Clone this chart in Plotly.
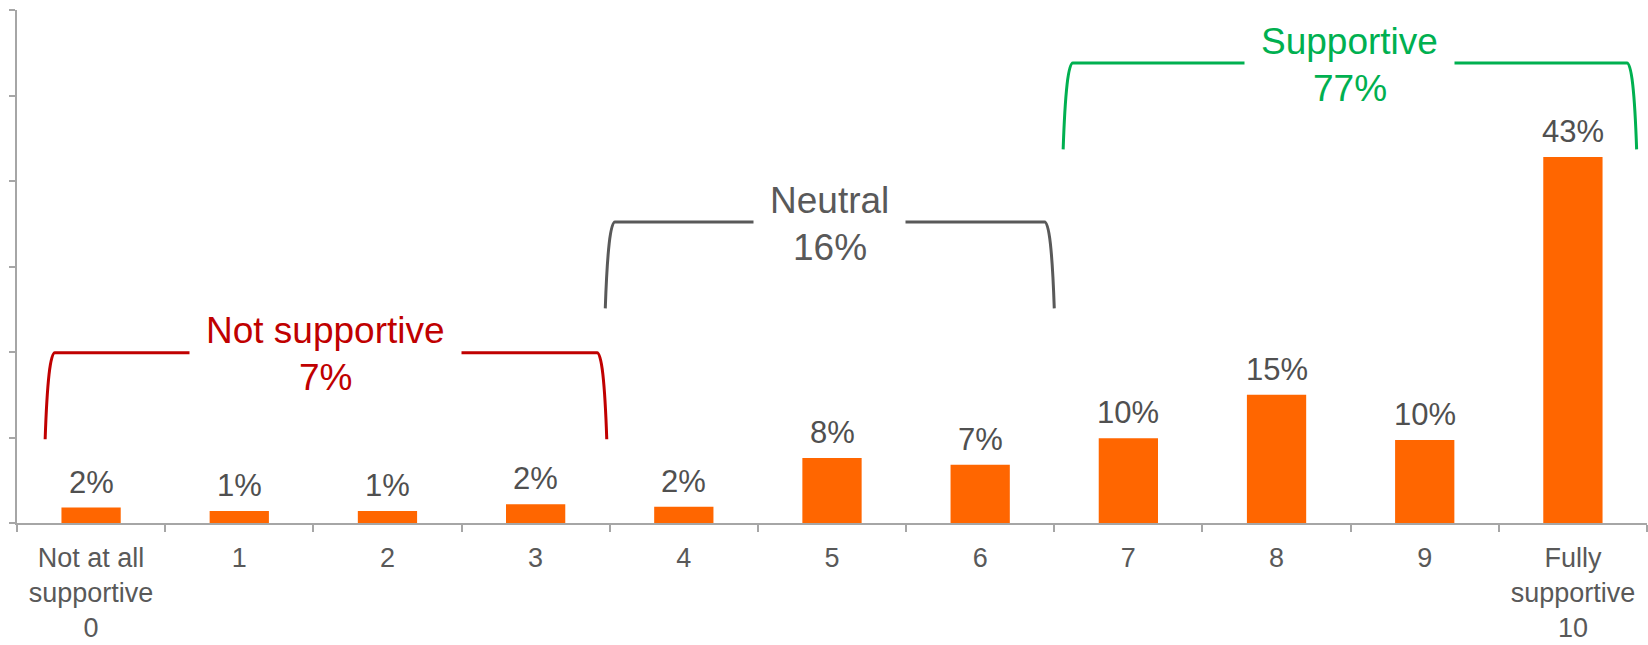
import plotly.graph_objects as go

# ---- data ----
categories = ["Not at all<br>supportive<br>0", "1", "2", "3", "4", "5", "6", "7", "8", "9",
              "Fully<br>supportive<br>10"]
values = [1.8, 1.4, 1.4, 2.2, 1.9, 7.6, 6.8, 9.9, 15.0, 9.7, 42.8]
value_labels = ["2%", "1%", "1%", "2%", "2%", "8%", "7%", "10%", "15%", "10%", "43%"]

group_names = ["Not supportive", "Neutral", "Supportive"]
group_totals = ["7%", "16%", "77%"]
group_colors = ["#C00000", "#595959", "#00B050"]
# bracket spans (category units) and levels (value units)
group_start = [-0.31, 3.47, 6.56]
group_end = [3.48, 6.50, 10.43]
group_top = [19.9, 35.2, 53.8]
bracket_depth = 10.1

FONT = "Liberation Sans"
TEXT_GRAY = "#595959"
AXIS_GRAY = "#A6A6A6"

fig = go.Figure()
fig.add_trace(go.Bar(
    x=categories, y=values,
    marker=dict(color="#FF6600", line=dict(width=0)),
    hoverinfo="skip",
))

annotations = []
for c, v, t in zip(categories, values, value_labels):
    annotations.append(dict(
        x=c, y=v, xref="x", yref="y", text=t, showarrow=False,
        yanchor="bottom", yshift=6,
        font=dict(family=FONT, size=31, color="#505050"),
    ))

shapes = []
for name, tot, col, x0, x1, yt in zip(group_names, group_totals, group_colors,
                                      group_start, group_end, group_top):
    yb = yt - bracket_depth
    path = (f"M {x0},{yb} Q {x0 + 0.02},{yt} {x0 + 0.065},{yt} "
            f"L {x1 - 0.065},{yt} Q {x1 - 0.02},{yt} {x1},{yb}")
    shapes.append(dict(type="path", xref="x", yref="y", path=path,
                       line=dict(color=col, width=3), layer="above"))
    mid = (x0 + x1) / 2
    annotations.append(dict(
        x=mid, y=yt, xref="x", yref="y", text=name, showarrow=False,
        yanchor="middle", yshift=22, bgcolor="white", borderpad=16,
        font=dict(family=FONT, size=37, color=col),
    ))
    annotations.append(dict(
        x=mid, y=yt, xref="x", yref="y", text=tot, showarrow=False,
        yanchor="middle", yshift=-25,
        font=dict(family=FONT, size=37, color=col),
    ))

fig.update_layout(
    width=1648, height=645,
    margin=dict(l=17, r=1, t=10, b=122),
    paper_bgcolor="white", plot_bgcolor="white",
    showlegend=False,
    bargap=0.6,
    shapes=shapes,
    annotations=annotations,
    xaxis=dict(
        type="category", tickson="boundaries",
        showline=True, linecolor=AXIS_GRAY, linewidth=1.5,
        ticks="outside", ticklen=7, tickwidth=1.5, tickcolor=AXIS_GRAY,
        ticklabelstandoff=10, automargin=False,
        showgrid=False, zeroline=False,
        tickfont=dict(family=FONT, size=27, color=TEXT_GRAY),
        fixedrange=True,
    ),
    yaxis=dict(
        range=[0, 60], tickvals=[0, 10, 20, 30, 40, 50, 60],
        showticklabels=False, automargin=False,
        showline=True, linecolor=AXIS_GRAY, linewidth=1.5,
        ticks="outside", ticklen=6, tickwidth=1.5, tickcolor=AXIS_GRAY,
        showgrid=False, zeroline=False, fixedrange=True,
    ),
)

fig.write_html("out.html", config={"displayModeBar": False},
               post_script="document.body.style.margin='0';")
